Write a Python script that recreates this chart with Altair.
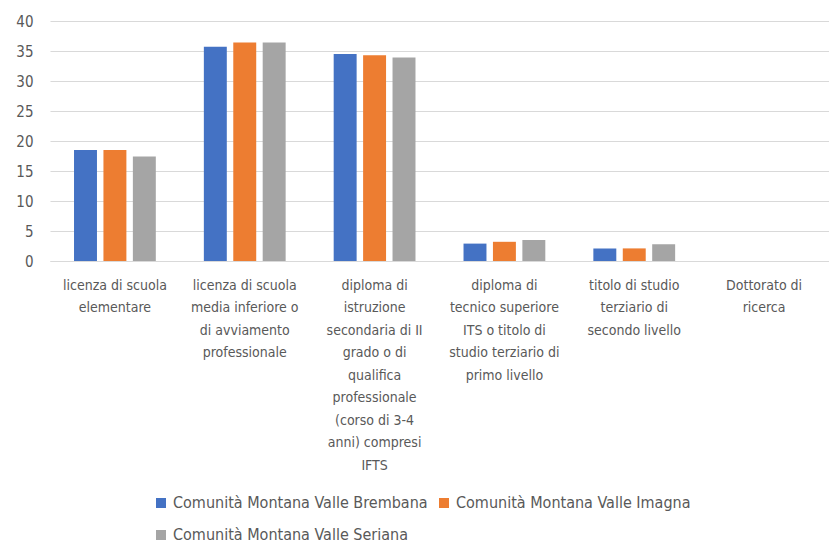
import altair as alt
import pandas as pd

categories = [
    "licenza di scuola|elementare",
    "licenza di scuola|media inferiore o|di avviamento|professionale",
    "diploma di|istruzione|secondaria di II|grado o di|qualifica|professionale|(corso di 3-4|anni) compresi|IFTS",
    "diploma di|tecnico superiore|ITS o titolo di|studio terziario di|primo livello",
    "titolo di studio|terziario di|secondo livello",
    "Dottorato di|ricerca",
]
series = [
    "Comunità Montana Valle Brembana",
    "Comunità Montana Valle Imagna",
    "Comunità Montana Valle Seriana",
]
brembana = [18.5, 35.7, 34.5, 2.9, 2.1, 0.0]
imagna = [18.5, 36.4, 34.3, 3.2, 2.1, 0.0]
seriana = [17.4, 36.4, 33.9, 3.5, 2.8, 0.0]
colors = ["#4472C4", "#ED7D31", "#A5A5A5"]

rows = []
for s, vals in zip(series, [brembana, imagna, seriana]):
    for c, v in zip(categories, vals):
        rows.append({"categoria": c, "serie": s, "valore": v})
df = pd.DataFrame(rows)

font = "Liberation Sans Narrow, DejaVu Sans Condensed, sans-serif"

chart = alt.Chart(df).mark_bar().encode(
    x=alt.X("categoria:N", sort=categories, title=None,
            scale=alt.Scale(paddingInner=0.37, paddingOuter=0.185),
            axis=alt.Axis(labelExpr="split(datum.value, '|')", labelAngle=0,
                          labelFontSize=14, labelColor="#595959", labelFont=font,
                          labelLineHeight=22.5, labelPadding=17, ticks=False,
                          domainColor="#d9d9d9", labelBaseline="top")),
    xOffset=alt.XOffset("serie:N", sort=series,
                        scale=alt.Scale(paddingInner=0.22, paddingOuter=0)),
    y=alt.Y("valore:Q", title=None,
            scale=alt.Scale(domain=[0, 40]),
            axis=alt.Axis(values=[0, 5, 10, 15, 20, 25, 30, 35, 40],
                          labelFontSize=15, labelColor="#595959", labelFont=font,
                          domain=False, ticks=False, gridColor="#d9d9d9",
                          labelPadding=17)),
    color=alt.Color("serie:N", sort=series,
                    scale=alt.Scale(domain=series, range=colors),
                    legend=alt.Legend(title=None, orient="none", legendX=103, legendY=474,
                                      direction="horizontal", columns=2,
                                      symbolType="square", symbolSize=100,
                                      symbolStrokeWidth=0, labelLimit=400,
                                      labelFontSize=16, labelColor="#595959",
                                      labelFont=font, rowPadding=16,
                                      columnPadding=8, labelOffset=4)),
).properties(
    width=779, height=240,
    autosize=alt.AutoSizeParams(type="none"),
    padding={"left": 42, "top": 13, "right": 0, "bottom": 285},
).configure_view(stroke=None)

chart.save("out.html", embed_options={"renderer": "svg", "actions": False})
